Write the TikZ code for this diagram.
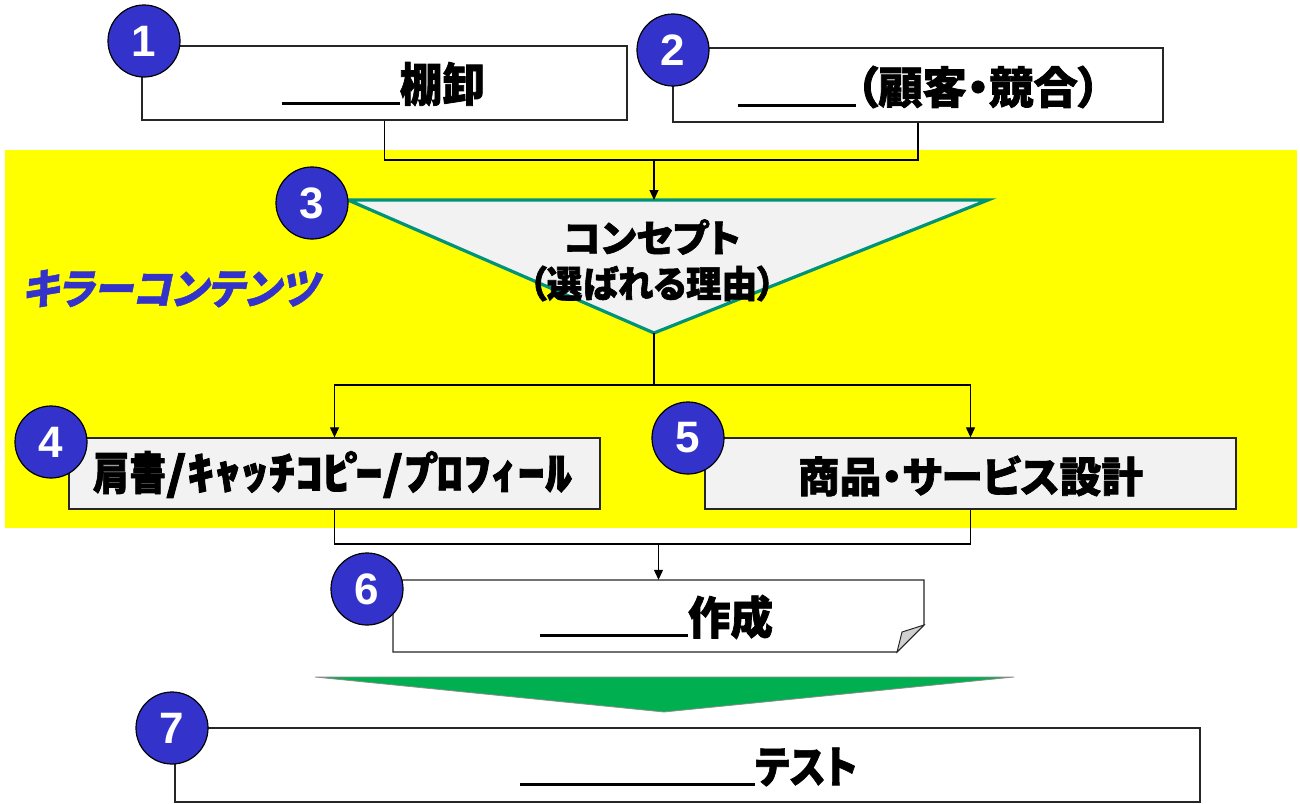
\documentclass[tikz,border=0pt]{standalone}
\usepackage{fontspec}
\usepackage{graphicx}
\usetikzlibrary{arrows.meta}
\setmainfont{Liberation Sans}
\newfontfamily\jp[RawFeature=+palt,BoldFeatures={FakeBold=1.6}]{Noto Sans CJK JP}
\newfontfamily\jpw[BoldFeatures={FakeBold=1.6}]{Noto Sans CJK JP}
\newfontfamily\jpsl[RawFeature=+palt,FakeSlant=0.22,BoldFeatures={FakeSlant=0.22,FakeBold=1.2}]{Noto Sans CJK JP}
\newcommand\wfit[2]{\resizebox{#1}{\height}{#2}}
\newcommand\blankline[1]{\rule[-0.07em]{#1}{3pt}}
\newcommand\hdk{\kern-0.1em ﾟ\kern-0.3em\relax}
\definecolor{numblue}{HTML}{3333CC}
\definecolor{hiyellow}{HTML}{FFFF00}
\definecolor{lightbox}{HTML}{F2F2F2}
\definecolor{teal3}{HTML}{00937A}
\definecolor{arrowgreen}{HTML}{00B050}
\definecolor{foldgray}{HTML}{D0D0D0}
\tikzset{
  num/.style={circle, draw=black, line width=1.2pt, fill=numblue, minimum size=72pt, inner sep=0pt, text=white, font=\fontsize{44}{48}\selectfont\bfseries},
  boxshape/.style={draw=black!85, line width=1.3pt, fill=#1, inner sep=0pt},
  boxshape/.default=white,
  txt/.style={inner sep=0pt, outer sep=0pt, font=\jp\bfseries},
  conn/.style={draw=black, line width=1.1pt},
  connarrow/.style={conn, -{Triangle[length=10pt,width=9pt]}},
}
\begin{document}
\begin{tikzpicture}[x=1pt,y=-1pt]
\useasboundingbox (0,0) rectangle (1300,803);
% yellow band
\fill[hiyellow] (5,150) rectangle (1297,528);

% boxes
\node[boxshape, minimum width=485pt, minimum height=74pt] (b1) at (384.5,83) {};
\node[boxshape, minimum width=490pt, minimum height=74pt] (b2) at (918,85) {};
\node[boxshape=lightbox, minimum width=531pt, minimum height=71pt] (b4) at (334.5,473.5) {};
\node[boxshape=lightbox, minimum width=531pt, minimum height=71pt] (b5) at (970.5,473.5) {};
\node[inner sep=0pt, minimum width=531pt, minimum height=72pt] (b6) at (658.5,616) {};
\draw[draw=black!85, line width=1.3pt, fill=white] (393,580) -- (924,580) -- (924,625) -- (897,652) -- (393,652) -- cycle;
\draw[draw=black!85, line width=1pt, fill=foldgray] (924,625) -- (902,632) -- (897,652) -- cycle;
\node[boxshape, minimum width=1025pt, minimum height=74pt] (b7) at (687.5,765) {};

% concept triangle
\coordinate (t3t) at (654,200);
\coordinate (t3b) at (654,333);
\draw[draw=teal3, line width=3.2pt, fill=lightbox, line join=miter] (348,200) -- (988,200) -- (t3b) -- cycle;

% green arrow
\draw[draw=black!45, line width=0.8pt, fill=arrowgreen] (315,677) -- (1014,677) -- (664,712) -- cycle;

% connectors
\coordinate (j1) at (654,160);
\draw[conn] (b1.south) |- (j1) -| (b2.south);
\draw[connarrow] (j1) -- (t3t);
\coordinate (k1) at (654,385);
\draw[conn] (t3b) -- (k1);
\draw[connarrow] (k1) -| (b4.north);
\draw[connarrow] (k1) -| (b5.north);
\coordinate (m1) at (658.5,544);
\draw[conn] (b4.south) |- (m1) -| (b5.south);
\draw[connarrow] (m1) -- (b6.north);

% texts
\node[txt] (t1) at (383.5,84) {\fontsize{46}{50}\selectfont\blankline{118pt}\wfit{85pt}{棚卸}};
\node[txt] (t2) at (919,87) {\fontsize{44}{48}\selectfont\blankline{118pt}\wfit{244pt}{（顧客・競合）}};
\node[txt] (t3a) at (652,237) {\fontsize{38}{42}\selectfont\wfit{177pt}{コンセプト}};
\node[txt] (t3c) at (652,283.5) {\fontsize{37}{40}\selectfont\wfit{246pt}{（選ばれる理由）}};
\node[inner sep=0pt, text=numblue] (kc) at (170,288.5) {\jpsl\bfseries\fontsize{42}{46}\selectfont\wfit{297pt}{キラーコンテンツ}};
\node[inner sep=0pt] (t4) at (332.5,474.5) {\jpw\bfseries\fontsize{45}{50}\selectfont\wfit{73pt}{肩書}\wfit{406pt}{/ｷｬｯﾁｺﾋ\hdk ｰ/ﾌ\hdk ﾛﾌｨｰﾙ}};
\node[txt] (t5) at (970.5,476) {\fontsize{42}{46}\selectfont\wfit{345pt}{商品・サービス設計}};
\node[txt] (t6) at (656.5,617) {\fontsize{45}{50}\selectfont\blankline{148pt}\wfit{85pt}{作成}};
\node[txt] (t7) at (688.5,767) {\fontsize{44}{48}\selectfont\blankline{235pt}\wfit{102pt}{テスト}};

% numbered circles
\node[num] (n1) at (144,41) {1};
\node[num] (n2) at (673,50) {2};
\node[num] (n3) at (312,203) {3};
\node[num] (n4) at (51,442) {4};
\node[num] (n5) at (688,438) {5};
\node[num] (n6) at (367,589) {6};
\node[num] (n7) at (172,728) {7};
\end{tikzpicture}
\end{document}
